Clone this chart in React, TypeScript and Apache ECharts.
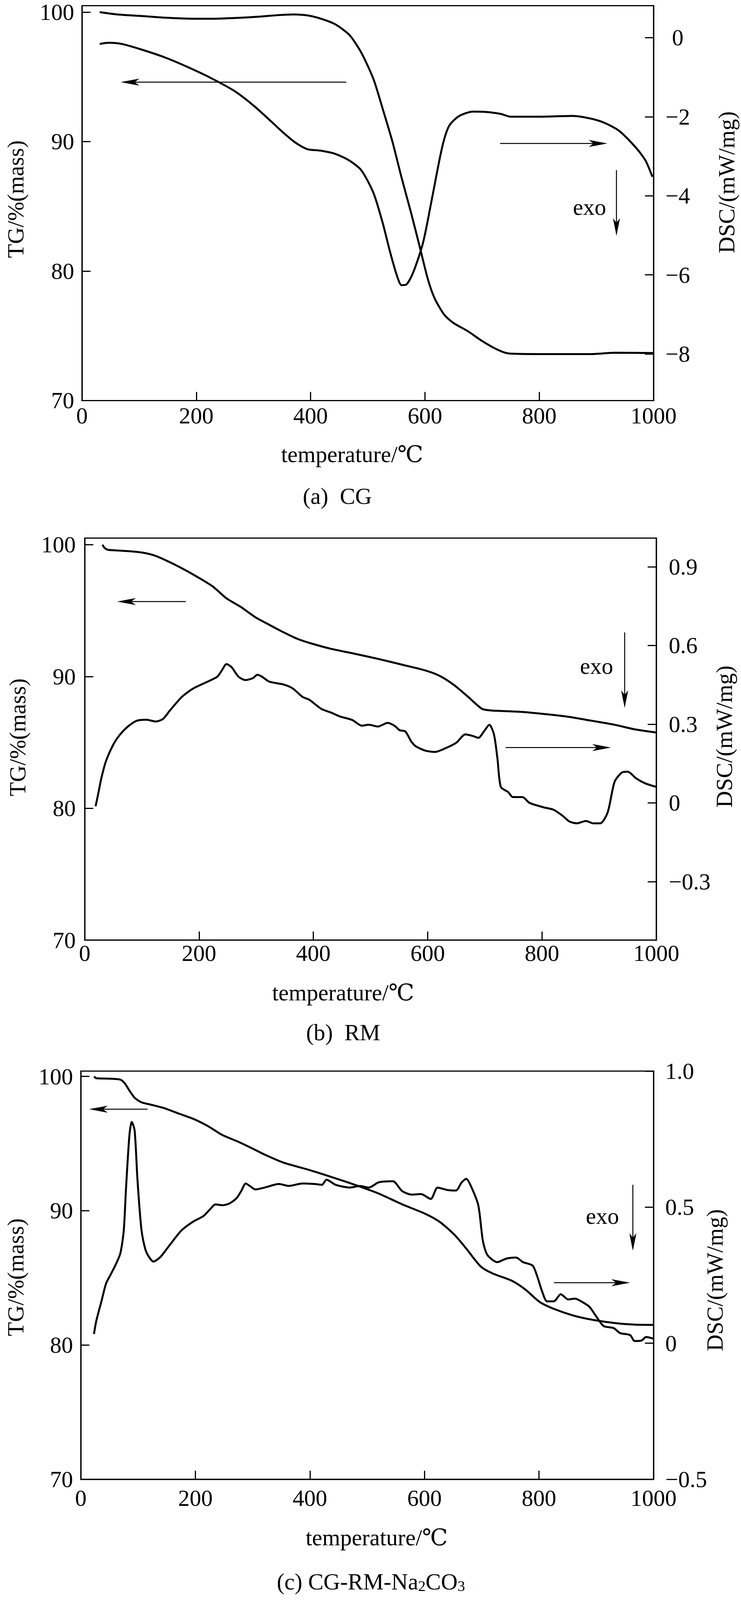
import React, { useEffect, useRef } from "react";
import * as echarts from "echarts";

const FONT = "'Liberation Serif', 'DejaVu Serif', 'Noto Sans CJK SC', serif";

// ---- tick values / labels ----
const X_TICKS = [0, 200, 400, 600, 800, 1000];
const TG_TICKS = [70, 80, 90, 100];
const DSC_TICKS_A = [0, -2, -4, -6, -8];
const DSC_TICKS_B = [0.9, 0.6, 0.3, 0, -0.3];
const DSC_TICKS_C = [1.0, 0.5, 0, -0.5];

const X_TITLE = "temperature/℃";
const TG_TITLE = "TG/%(mass)";
const DSC_TITLE = "DSC/(mW/mg)";
const CAPTION_A = "(a)  CG";
const CAPTION_B = "(b)  RM";
const CAPTION_C = "(c) CG-RM-Na{s|2}CO{s|3}";
const EXO = "exo";

// ---- (a) CG ----
const T_A_TG = [31, 62, 104, 145, 195, 228, 269, 311, 344, 369, 394, 418, 443, 468, 489, 510, 526, 543, 559, 576, 592, 605, 617, 634, 650, 675, 700, 725, 746, 800, 891, 932, 1000];
const V_A_TG = [100.0, 99.82, 99.7, 99.57, 99.49, 99.49, 99.55, 99.65, 99.77, 99.82, 99.75, 99.49, 99.06, 98.23, 96.84, 94.82, 92.55, 90.02, 87.24, 84.46, 81.68, 79.4, 77.89, 76.62, 75.99, 75.36, 74.6, 73.97, 73.64, 73.59, 73.59, 73.69, 73.67];
const T_A_DSC = [31, 46, 70, 104, 145, 186, 228, 269, 302, 331, 352, 373, 394, 418, 443, 468, 489, 510, 526, 539, 551, 559, 567, 580, 597, 613, 630, 642, 659, 684, 708, 733, 750, 800, 858, 891, 915, 940, 969, 986, 998];
const V_A_DSC = [-0.16, -0.13, -0.16, -0.3, -0.5, -0.75, -1.04, -1.37, -1.74, -2.12, -2.4, -2.65, -2.82, -2.86, -2.94, -3.11, -3.36, -3.93, -4.68, -5.42, -6.02, -6.26, -6.25, -5.92, -5.17, -4.02, -2.78, -2.24, -1.99, -1.87, -1.88, -1.93, -2.0, -2.0, -1.98, -2.05, -2.16, -2.36, -2.78, -3.11, -3.52];

// ---- (b) RM ----
const T_B_TG = [31, 35, 41, 66, 99, 124, 157, 190, 224, 248, 273, 298, 323, 348, 373, 397, 430, 472, 513, 555, 596, 621, 646, 671, 695, 712, 762, 803, 844, 886, 927, 960, 1000];
const V_B_TG = [100.0, 99.75, 99.61, 99.54, 99.41, 99.15, 98.5, 97.73, 96.83, 95.93, 95.28, 94.51, 93.92, 93.35, 92.84, 92.5, 92.11, 91.73, 91.34, 90.9, 90.46, 90.05, 89.36, 88.45, 87.55, 87.42, 87.32, 87.16, 86.96, 86.65, 86.34, 86.01, 85.75];
const T_B_DSC = [19, 23, 29, 37, 50, 62, 75, 91, 108, 124, 137, 149, 170, 190, 215, 232, 240, 248, 257, 269, 281, 294, 302, 310, 323, 348, 364, 381, 393, 414, 430, 447, 468, 485, 497, 513, 530, 542, 551, 561, 571, 579, 596, 613, 633, 650, 666, 679, 689, 699, 708, 716, 722, 728, 741, 749, 766, 778, 803, 820, 836, 848, 861, 877, 890, 902, 915, 927, 940, 950, 965, 981, 1000];
const V_B_DSC = [-0.013, 0.028, 0.093, 0.158, 0.222, 0.261, 0.29, 0.313, 0.317, 0.31, 0.32, 0.352, 0.404, 0.436, 0.462, 0.481, 0.505, 0.529, 0.517, 0.481, 0.468, 0.475, 0.488, 0.481, 0.462, 0.451, 0.436, 0.404, 0.393, 0.358, 0.345, 0.329, 0.316, 0.294, 0.298, 0.291, 0.305, 0.294, 0.277, 0.272, 0.235, 0.216, 0.199, 0.194, 0.21, 0.229, 0.261, 0.255, 0.248, 0.274, 0.298, 0.261, 0.171, 0.061, 0.041, 0.022, 0.022, 0.0, -0.017, -0.026, -0.049, -0.071, -0.078, -0.069, -0.078, -0.078, -0.036, 0.08, 0.116, 0.119, 0.093, 0.074, 0.061];

// ---- (c) CG-RM-Na2CO3 ----
const T_C_TG = [23, 27, 48, 69, 77, 85, 94, 106, 123, 147, 172, 197, 222, 247, 272, 296, 321, 354, 396, 437, 478, 520, 561, 603, 627, 652, 673, 698, 719, 752, 776, 801, 826, 859, 892, 934, 967, 1000];
const V_C_TG = [100.0, 99.87, 99.84, 99.76, 99.47, 98.94, 98.41, 98.07, 97.89, 97.62, 97.22, 96.83, 96.3, 95.64, 95.19, 94.71, 94.18, 93.58, 93.07, 92.52, 91.94, 91.28, 90.48, 89.74, 89.16, 88.23, 87.18, 85.86, 85.33, 84.8, 84.14, 83.21, 82.69, 82.21, 81.89, 81.63, 81.52, 81.5];
const T_C_DSC = [23, 27, 36, 44, 52, 60, 69, 75, 79, 85, 89, 94, 99, 106, 114, 127, 139, 156, 176, 197, 214, 226, 235, 247, 259, 272, 280, 288, 295, 305, 321, 346, 363, 387, 408, 421, 429, 445, 470, 487, 503, 520, 545, 561, 578, 594, 611, 623, 640, 655, 665, 673, 681, 694, 702, 710, 727, 743, 760, 772, 789, 797, 805, 814, 826, 838, 851, 863, 876, 888, 901, 913, 930, 942, 959, 967, 979, 987, 1000];
const V_C_DSC = [0.034, 0.082, 0.154, 0.219, 0.252, 0.285, 0.33, 0.415, 0.572, 0.768, 0.813, 0.781, 0.598, 0.415, 0.337, 0.3, 0.317, 0.363, 0.415, 0.448, 0.467, 0.493, 0.51, 0.507, 0.513, 0.533, 0.559, 0.587, 0.578, 0.565, 0.572, 0.585, 0.578, 0.587, 0.585, 0.582, 0.601, 0.582, 0.572, 0.578, 0.572, 0.591, 0.595, 0.559, 0.546, 0.548, 0.53, 0.572, 0.563, 0.561, 0.591, 0.604, 0.578, 0.507, 0.376, 0.324, 0.298, 0.311, 0.315, 0.298, 0.285, 0.245, 0.193, 0.154, 0.154, 0.18, 0.161, 0.164, 0.151, 0.134, 0.095, 0.063, 0.056, 0.037, 0.03, 0.008, 0.01, 0.023, 0.017];

const zip = (ts: number[], vs: number[]) => ts.map((t, i) => [t, vs[i]]);

const BLACK = "#000";
const PAGE_W = 1898;
const PAGE_H = 4362;

function fmtDsc(dec: number) {
  return (v: number) => {
    if (Math.abs(v) < 1e-9) return "0";
    const s = dec > 0 ? Math.abs(v).toFixed(dec) : String(Math.abs(v));
    return (v < 0 ? "\u2212" : "") + s;
  };
}

function buildOption(sy: number) {
  const Y = (v: number) => v * sy;
  const FS = Math.round(62 * Math.min(1, sy + 0.02));
  const LH = Math.round(FS * 0.85);
  const lineStyle = { color: BLACK, width: 3 };

  const makeX = (gi: number, margin: number) => ({
    type: "value",
    gridIndex: gi,
    min: 0,
    max: 1000,
    interval: 200,
    axisLine: { show: true, onZero: false, lineStyle },
    axisTick: { show: true, inside: true, length: 22, lineStyle, customValues: X_TICKS },
    axisLabel: {
      show: true,
      margin,
      color: BLACK,
      fontSize: FS,
      fontFamily: FONT,
      customValues: X_TICKS,
      formatter: (v: number) => String(Math.round(v)),
    },
    splitLine: { show: false },
  });

  const makeTG = (gi: number, max: number, margin: number, padTop = 0) => ({
    type: "value",
    gridIndex: gi,
    position: "left",
    min: 70,
    max,
    axisLine: { show: true, onZero: false, lineStyle },
    axisTick: { show: true, inside: true, length: 22, lineStyle, customValues: TG_TICKS },
    axisLabel: {
      show: true,
      margin,
      color: BLACK,
      fontSize: FS,
      lineHeight: LH,
      padding: [padTop, 0, 0, 0],
      fontFamily: FONT,
      customValues: TG_TICKS,
      formatter: (v: number) => String(Math.round(v)),
    },
    splitLine: { show: false },
  });

  const makeDSC = (gi: number, min: number, max: number, ticks: number[], dec: number, margin: number, align: string) => ({
    type: "value",
    gridIndex: gi,
    position: "right",
    min,
    max,
    axisLine: { show: true, onZero: false, lineStyle },
    axisTick: { show: true, inside: true, length: 22, lineStyle, customValues: ticks },
    axisLabel: {
      show: true,
      margin,
      align,
      color: BLACK,
      fontSize: FS,
      lineHeight: LH,
      fontFamily: FONT,
      customValues: ticks,
      formatter: fmtDsc(dec),
    },
    splitLine: { show: false },
  });

  const makeLine = (gi: number, yi: number, data: number[][]) => ({
    type: "line",
    xAxisIndex: gi,
    yAxisIndex: yi,
    data,
    showSymbol: false,
    symbol: "none",
    smooth: 0.25,
    silent: true,
    lineStyle: { color: BLACK, width: 5 },
  });

  const text = (x: number, y: number, s: string, rotate = false, extra: any = {}) => ({
    type: "text",
    x,
    y: Y(y),
    rotation: rotate ? Math.PI / 2 : 0,
    silent: true,
    style: {
      text: s,
      fontSize: FS,
      fontFamily: FONT,
      fill: BLACK,
      align: "center",
      verticalAlign: "middle",
      textAlign: "center",
      textVerticalAlign: "middle",
      ...extra,
    },
  });

  const hArrow = (x1: number, xt: number, y0: number) => {
    const d = xt > x1 ? 1 : -1;
    const y = Y(y0);
    return [
      { type: "line", silent: true, shape: { x1, y1: y, x2: xt - d * 30, y2: y }, style: { stroke: BLACK, lineWidth: 2.5 } },
      {
        type: "polygon",
        silent: true,
        shape: { points: [[xt, y], [xt - d * 48, y - 9], [xt - d * 36, y], [xt - d * 48, y + 9]] },
        style: { fill: BLACK },
      },
    ];
  };

  const vArrow = (x: number, y10: number, yt0: number) => {
    const y1 = Y(y10);
    const yt = Y(yt0);
    const hl = 48 * sy;
    return [
      { type: "line", silent: true, shape: { x1: x, y1, x2: x, y2: yt - 30 * sy }, style: { stroke: BLACK, lineWidth: 2.5 } },
      {
        type: "polygon",
        silent: true,
        shape: { points: [[x, yt], [x - 9, yt - hl], [x, yt - 36 * sy], [x + 9, yt - hl]] },
        style: { fill: BLACK },
      },
    ];
  };

  const gridBase = { show: true, borderColor: BLACK, borderWidth: 3, backgroundColor: "transparent", containLabel: false };

  return {
    animation: false,
    backgroundColor: "#fff",
    grid: [
      { ...gridBase, left: 210, top: Y(13), width: 1464, height: Y(1079) },
      { ...gridBase, left: 217, top: Y(1467), width: 1464, height: Y(1096) },
      { ...gridBase, left: 207, top: Y(2920), width: 1467, height: Y(1113) },
    ],
    xAxis: [makeX(0, 10 * sy), makeX(1, 4 * sy), makeX(2, 20 * sy)],
    yAxis: [
      makeTG(0, 100.5, 20, 12),
      makeDSC(0, -9.18, 0.81, DSC_TICKS_A, 0, 62, "center"),
      makeTG(1, 100.5, 23),
      makeDSC(1, -0.523, 1.009, DSC_TICKS_B, 1, 32, "left"),
      makeTG(2, 100.4, 20),
      makeDSC(2, -0.5, 1.0, DSC_TICKS_C, 1, 30, "left"),
    ],
    series: [
      makeLine(0, 0, zip(T_A_TG, V_A_TG)),
      makeLine(0, 1, zip(T_A_DSC, V_A_DSC)),
      makeLine(1, 2, zip(T_B_TG, V_B_TG)),
      makeLine(1, 3, zip(T_B_DSC, V_B_DSC)),
      makeLine(2, 4, zip(T_C_TG, V_C_TG)),
      makeLine(2, 5, zip(T_C_DSC, V_C_DSC)),
    ],
    graphic: [
      // (a)
      text(40, 543, TG_TITLE, true),
      text(1861, 497, DSC_TITLE, true),
      text(902, 1238, X_TITLE),
      text(864, 1353, CAPTION_A),
      text(1510, 564, EXO),
      ...hArrow(887, 309, 224),
      ...hArrow(1281, 1556, 391),
      ...vArrow(1579, 464, 643),
      // (b)
      text(45, 2010, TG_TITLE, true),
      text(1855, 2008, DSC_TITLE, true),
      text(879, 2706, X_TITLE),
      text(879, 2815, CAPTION_B),
      text(1528, 1816, EXO),
      ...hArrow(476, 300, 1640),
      ...hArrow(1295, 1565, 2038),
      ...vArrow(1600, 1724, 1930),
      // (c)
      text(40, 3482, TG_TITLE, true),
      text(1831, 3490, DSC_TITLE, true),
      text(965, 4192, X_TITLE),
      text(950, 4312, CAPTION_C, false, {
        lineHeight: FS,
        rich: { s: { fontSize: Math.round(FS * 0.65), fontFamily: FONT, fill: BLACK, lineHeight: 20, verticalAlign: "bottom" } },
      }),
      text(1543, 3315, EXO),
      ...hArrow(378, 228, 3024),
      ...hArrow(1419, 1614, 3497),
      ...vArrow(1621, 3230, 3410),
    ],
  };
}

export default function App() {
  const ref = useRef<HTMLDivElement>(null);
  const vh = typeof window !== "undefined" && window.innerHeight ? window.innerHeight : PAGE_H;
  const sy = Math.min(1, vh / PAGE_H);
  useEffect(() => {
    if (!ref.current) return;
    const chart = echarts.init(ref.current, undefined, { renderer: "svg" });
    chart.setOption(buildOption(sy) as any);
    return () => chart.dispose();
  }, []);
  return (
    <div
      ref={ref}
      style={{ position: "absolute", left: 0, top: 0, width: PAGE_W, height: PAGE_H * sy, background: "#fff" }}
    />
  );
}
